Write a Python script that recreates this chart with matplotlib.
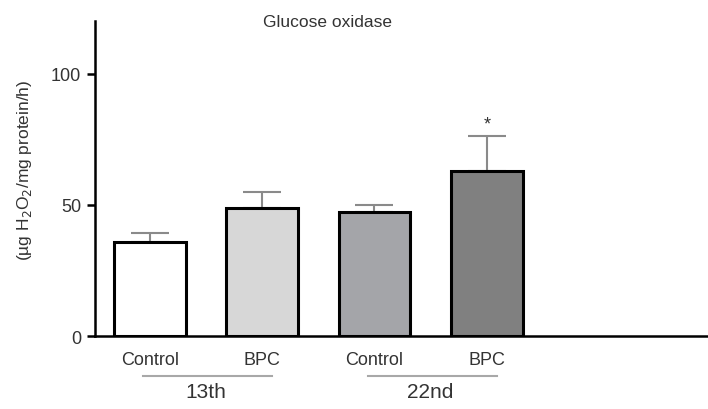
import matplotlib
matplotlib.use("Agg")
import matplotlib.pyplot as plt
import numpy as np

plt.rcParams["font.family"] = ["Liberation Sans", "DejaVu Sans"]

# Glucose oxidase activity, mean and upper SEM
TREATMENTS = ["Control", "BPC", "Control", "BPC"]
GROUPS = ["13th", "22nd"]
MEANS = [35.8, 48.9, 47.2, 62.7]
ERRS = [3.6, 6.0, 2.6, 13.7]
COLORS = ["#ffffff", "#d7d7d7", "#a4a5a9", "#808080"]
SIGNIF = ["", "", "", "*"]

TXT = "#333333"
x = np.arange(len(MEANS))

fig = plt.figure(figsize=(7.08, 4.10), dpi=100)
ax = fig.add_axes([0.134, 0.178, 0.866, 0.768])

ax.errorbar(x, MEANS, yerr=[np.zeros(len(ERRS)), ERRS], fmt="none",
            ecolor="#8a8a8a", elinewidth=1.5, capsize=14, capthick=1.5, zorder=1)
ax.bar(x, MEANS, 0.64, color=COLORS, edgecolor="black", linewidth=2.2, zorder=2)

for xi, m, e, s in zip(x, MEANS, ERRS, SIGNIF):
    if s:
        ax.text(xi, m + e + 1.0, s, ha="center", va="bottom", fontsize=13, color=TXT)

ax.set_xlim(-0.49, 4.97)
ax.set_ylim(0, 120)
ax.set_yticks([0, 50, 100])
ax.set_xticks(x)
ax.set_xticklabels(TREATMENTS)
ax.tick_params(axis="x", length=0, pad=11, labelsize=13, labelcolor=TXT)
ax.tick_params(axis="y", length=6, width=1.8, labelsize=13, labelcolor=TXT, pad=4)
for side in ("top", "right"):
    ax.spines[side].set_visible(False)
for side in ("left", "bottom"):
    ax.spines[side].set_linewidth(1.8)

ax.set_ylabel("(µg H$_2$O$_2$/mg protein/h)", fontsize=12.5, color=TXT)
ax.yaxis.set_label_coords(-0.10, 0.53)
ax.set_title("Glucose oxidase", fontsize=12.5, color=TXT, x=0.38, y=0.995, va="top")

tr = ax.get_xaxis_transform()
for gi, g in enumerate(GROUPS):
    c = x[2 * gi]
    ax.plot([c - 0.06, c + 1.09], [-0.127, -0.127], transform=tr, clip_on=False,
            color="#a8a8a8", lw=1.5)
    ax.text(c + 0.5, -0.145, g, transform=tr, ha="center", va="top",
            fontsize=15, color=TXT)

fig.savefig("out.png", dpi=100)
